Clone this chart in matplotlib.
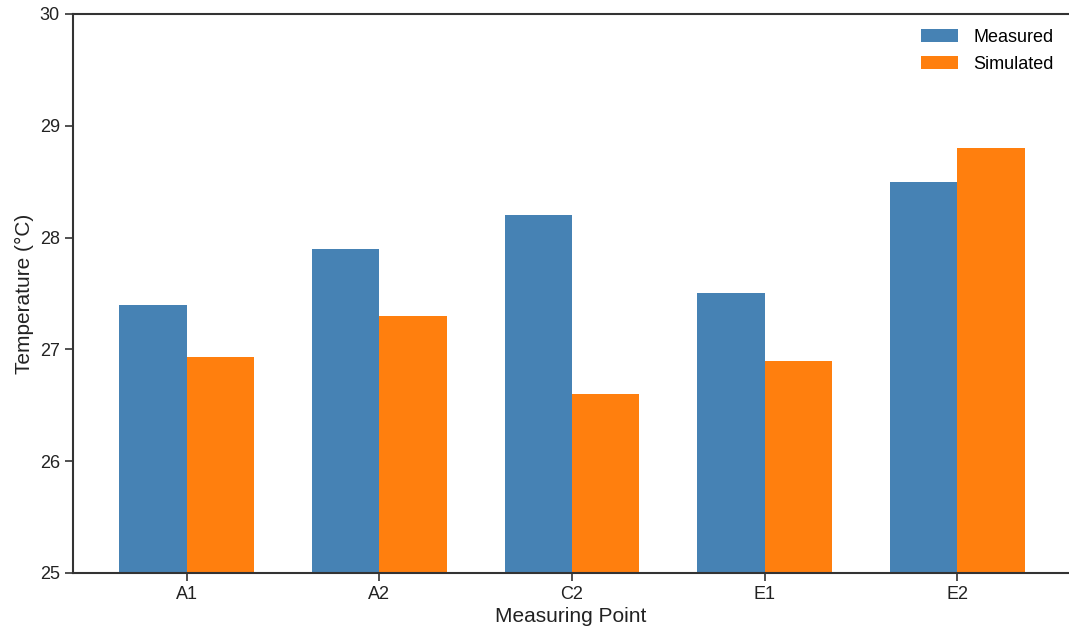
import matplotlib
matplotlib.use("Agg")
import matplotlib.pyplot as plt
import numpy as np

categories = ["A1", "A2", "C2", "E1", "E2"]
measured = [27.4, 27.9, 28.2, 27.5, 28.5]
simulated = [26.93, 27.3, 26.6, 26.9, 28.8]

plt.rcParams['font.family'] = ['Liberation Sans', 'DejaVu Sans']

fig = plt.figure(figsize=(10.69, 6.34), dpi=100)
ax = fig.add_axes([73/1069, 61/634, 996/1069, 559/634])

x = np.arange(len(categories))
w = 0.35
ax.bar(x - w/2, measured, w, color='#4682B4', label='Measured')
ax.bar(x + w/2, simulated, w, color='#FF7F0E', label='Simulated')

ax.set_xlim(-0.59, 4.58)
ax.set_ylim(25, 30)
ax.set_yticks([25, 26, 27, 28, 29, 30])
ax.set_xticks(x)
ax.set_xticklabels(categories)

for s in ['left', 'bottom', 'top']:
    ax.spines[s].set_color('#333333')
    ax.spines[s].set_linewidth(1.5)
ax.spines['right'].set_visible(False)
ax.tick_params(axis='both', colors='#333333', labelsize=13, length=6, width=1.2, labelcolor='#222222')

ax.set_xlabel('Measuring Point', fontsize=15, color='#222222', labelpad=3)
ax.set_ylabel('Temperature (°C)', fontsize=15, color='#222222')

leg = ax.legend(loc='upper right', bbox_to_anchor=(1.001, 1.003), frameon=False, fontsize=13,
                handlelength=2.05, handleheight=0.7, handletextpad=0.85, labelspacing=0.55)

fig.savefig('out.png', dpi=100)
